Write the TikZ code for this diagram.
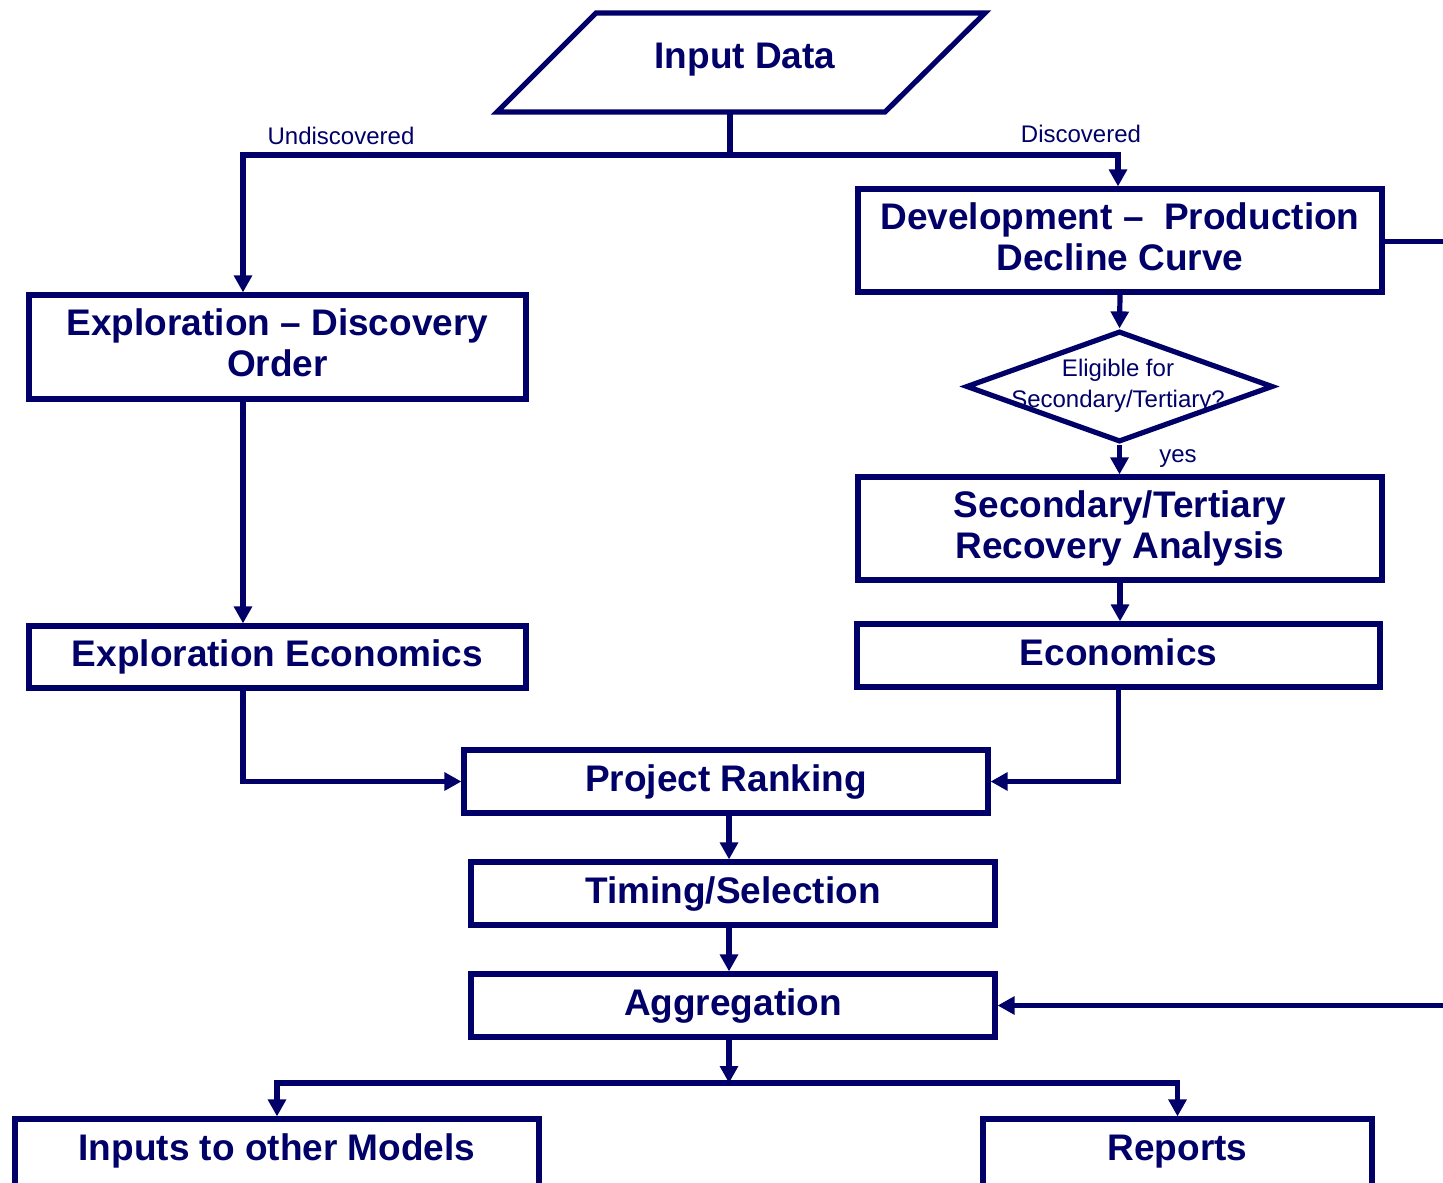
\documentclass[tikz,border=0pt]{standalone}
\usepackage{fontspec}
\setmainfont{Liberation Sans}
\usetikzlibrary{arrows.meta,shapes.geometric}
\definecolor{navy}{RGB}{0,0,104}
\begin{document}
\begin{tikzpicture}[x=0.5pt,y=-0.5pt,color=navy,line width=2.6pt,line join=miter,
  box/.style={draw=navy,line width=2.6pt,rectangle,inner sep=0pt,align=center,text=navy,
    font=\fontsize{18.5}{20.5}\selectfont\bfseries},
  onebox/.style={box,text height=13.5pt,text depth=3.7pt,minimum height=31.5pt},
  lbl/.style={text=navy,font=\fontsize{12}{15.3}\selectfont,inner sep=0pt,align=center},
  arr/.style={-{Triangle[length=8.5pt,width=8.8pt]}},
  twoarr/.style={{Triangle[length=8.5pt,width=8.8pt]}-{Triangle[length=8.5pt,width=8.8pt]}}]
\useasboundingbox (0,0) rectangle (1443,1182);
\fill[white] (0,0) rectangle (1443,1182);

% Input data parallelogram
\draw (596,13) -- (985,13) -- (885,112) -- (497,112) -- cycle;
\node[lbl,font=\fontsize{18.5}{20.5}\selectfont\bfseries,anchor=base] (inp) at (745,68.3) {Input Data};
\coordinate (inpb) at (730,112);
\coordinate (jn) at (730,155);
\coordinate (jl) at (243,155);
\coordinate (jr) at (1118,155);

% boxes
\node[box,minimum width=262pt,minimum height=51.5pt] (dev) at (1120,240.5)
  {Development –\ \ Production\\Decline Curve\rule[-4pt]{0pt}{0pt}};
\node[box,minimum width=248.5pt,minimum height=52pt] (expl) at (277.5,347)
  {Exploration – Discovery\\Order\rule[-4.5pt]{0pt}{0pt}};
\node[onebox,minimum width=248.5pt,minimum height=31pt] (explecon) at (277.5,657) {Exploration Economics};
\node[diamond,draw=navy,line width=2.6pt,inner sep=0pt,minimum width=153.5pt,minimum height=55.5pt] (dia) at (1119.5,386.5) {};
\node[lbl] (diat) at (1118,386) {Eligible for\\Secondary/Tertiary?};
\node[box,minimum width=262pt,minimum height=51.5pt] (sec) at (1120,528.5)
  {Secondary/Tertiary\\Recovery Analysis};
\node[onebox,minimum width=261.5pt] (econ) at (1118.5,655.5) {Economics};
\node[onebox,minimum width=262pt] (rank) at (726,781.5) {Project Ranking};
\node[onebox,minimum width=262pt] (timing) at (733,893.5) {Timing/Selection};
\node[onebox,minimum width=262pt] (agg) at (733,1005.5) {Aggregation};
\node[box,text height=13.5pt,text depth=8.5pt,minimum height=36pt,minimum width=262pt] (inputs) at (277,1155) {Inputs to other Models};
\node[box,text height=13.5pt,text depth=8.5pt,minimum height=36pt,minimum width=194.5pt] (reports) at (1177.5,1155) {Reports};

% labels
\node[lbl] (undisc) at (341,136) {Undiscovered};
\node[lbl] (disc) at (1081,134) {Discovered};
\node[lbl] (yes) at (1178,459) {yes};

% connectors
\coordinate (cx) at (729,0);
\coordinate (bj) at (729,1083);
\coordinate (rt) at (1500,241.5);
\coordinate (rb) at (1500,1005.5);

\draw (inpb) -- (jn);
\draw[twoarr] (expl.north -| jl) -- (jl) -- (jr) -- (jr |- dev.north);
\draw[arr] (expl.south -| jl) -- (explecon.north -| jl);
\draw[arr] (dev.south) -- (dia.north);
\draw[arr] (dia.south) -- (dia.south |- sec.north);
\draw[arr] (sec.south) -- (sec.south |- econ.north);
\draw[arr] (econ.south) |- (rank.east);
\draw[arr] (explecon.south -| jl) |- (rank.west);
\draw[arr] (rank.south -| cx) -- (timing.north -| cx);
\draw[arr] (timing.south -| cx) -- (agg.north -| cx);
\draw[arr] (agg.south -| cx) -- (bj);
\draw[twoarr] (inputs.north) -- (inputs.north |- bj) -- (reports.north |- bj) -- (reports.north);
\draw (dev.east |- rt) -- (rt) -- (rb);
\draw[arr] (rb) -- (agg.east);
\end{tikzpicture}
\end{document}
